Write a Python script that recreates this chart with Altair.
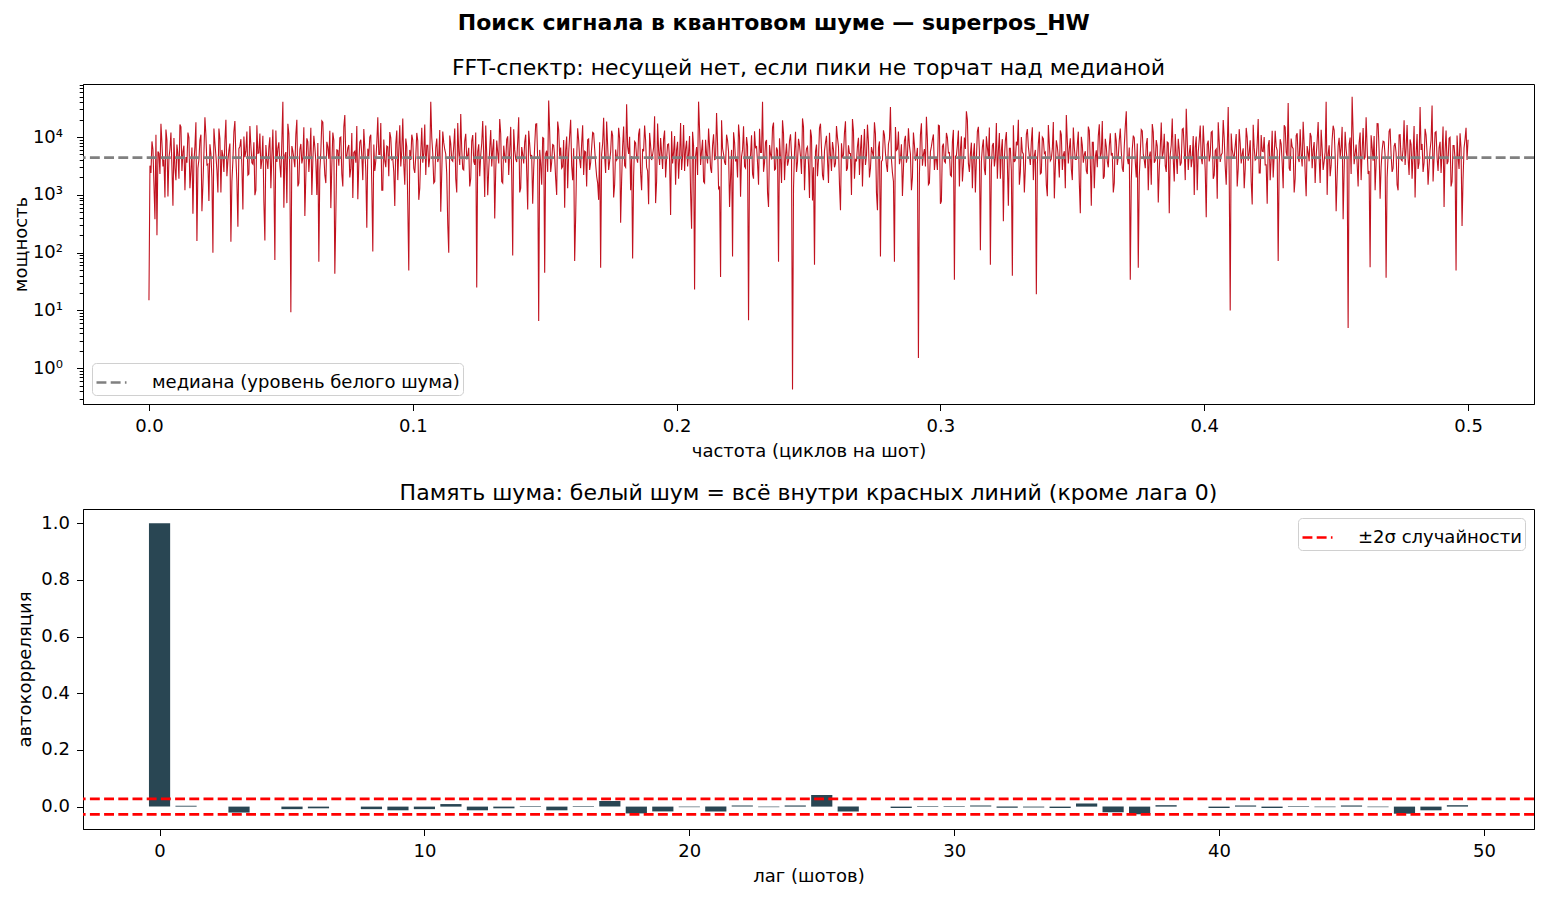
import numpy as np
import pandas as pd
import altair as alt

FONT = "DejaVu Sans"

# FFT power spectrum: even bins (0..1320) ...
power_even = [
    15, 2400, 6100, 380, 200, 5200, 17000, 3100, 900, 8800, 4300, 12000, 650, 2900, 7400, 1900, 15000, 5600, 1200, 3600,
    9800, 2600, 470, 6900, 160, 4100, 11000, 1500, 22000, 3300, 780, 5100, 100, 7900, 2700, 14000, 1100, 4800, 8600, 2100,
    5900, 155, 3900, 19000, 1700, 6300, 9200, 560, 4500, 12500, 2300, 7100, 3400, 990, 16000, 5300, 2800, 10500, 162, 4000,
    6600, 1300, 13500, 75, 3700, 8100, 2000, 41000, 4900, 720, 11500, 9.3, 5800, 3000, 20000, 1600, 7600, 4400, 430, 9500,
    2500, 14500, 3800, 6700, 1000, 70, 5500, 18000, 2200, 8300, 4200, 590, 12000, 43, 6000, 3200, 10000, 1400, 24000, 4700,
    7300, 2900, 880, 5700, 15500, 3500, 9000, 1800, 6400, 270, 4600, 11000, 105, 2600, 8000, 5000, 17500, 1200, 3900, 7000,
    2100, 9700, 4300, 640, 13000, 5900, 3100, 21000, 1500, 6800, 49, 4000, 8900, 2400, 11800, 820, 5400, 3600, 16500, 7200,
    3000, 41000, 5200, 1700, 9400, 4400, 510, 12500, 6100, 2300, 100, 7700, 3800, 14000, 1100, 5600, 25000, 2800, 8500, 4100,
    6500, 1900, 10800, 3300, 25, 7500, 4800, 19000, 920, 5100, 2700, 13200, 6200, 390, 8700, 3500, 11500, 1600, 4600, 9100,
    2200, 15000, 89, 6000, 3700, 22000, 1300, 5000, 8200, 2600, 12800, 4200, 700, 7000, 17000, 6.6, 3400, 9800, 45, 5800,
    43000, 2500, 7400, 4500, 1000, 13500, 6600, 3100, 600, 10200, 5300, 20000, 1800, 72, 4300, 8800, 2900, 16000, 5700, 1400,
    9300, 3600, 12000, 6300, 2100, 820, 55, 7800, 4700, 18500, 2700, 5500, 10600, 1500, 4000, 14500, 330, 6900, 3200, 37000,
    5100, 1200, 79, 8400, 4400, 11200, 2400, 6200, 15800, 3000, 690, 7100, 4900, 23000, 1700, 5900, 9600, 2800, 13000, 4200,
    7600, 450, 3500, 10400, 6000, 1900, 17500, 4600, 2600, 8600, 5300, 1100, 12300, 23, 6700, 41000, 3300, 9000, 1600, 5000,
    14000, 2900, 7200, 4100, 26000, 1300, 38, 6400, 3700, 11000, 5600, 2000, 86, 8100, 4500, 16500, 930, 6000, 3100, 10000,
    6.8, 4800, 2300, 12600, 7000, 1500, 5400, 41000, 3600, 8900, 620, 5000, 14800, 2700, 6600, 70, 4300, 19500, 1800, 7700,
    3900, 11200, 0.43, 5700, 2500, 9300, 4600, 21000, 1200, 6300, 3400, 13500, 800, 62, 7400, 4100, 17000, 2200, 5800, 10500,
    1600, 4900, 8200, 3000, 15500, 6800, 540, 4400, 12000, 2600, 7200, 5200, 20500, 1900, 3800, 9700, 6100, 1400, 13800, 4700,
    8000, 2900, 5500, 18000, 1100, 6500, 86, 4000, 10800, 3300, 7600, 33000, 2400, 70, 5900, 12500, 4300, 960, 8600, 3600,
    14200, 5100, 2000, 7300, 4600, 1.5, 11000, 3200, 6200, 22500, 1500, 5600, 9000, 2700, 4200, 16000, 700, 6900, 3800, 11800,
    5300, 2200, 8400, 34, 4800, 13000, 6000, 1700, 9800, 28000, 3500, 5000, 1300, 7800, 4100, 15000, 110, 6700, 2800, 10300,
    4500, 62, 7100, 3100, 17500, 5800, 1900, 9200, 4200, 12200, 650, 6400, 40, 3700, 8300, 20000, 2500, 5500, 1100, 11000,
    6900, 3300, 14800, 4800, 19, 7700, 2300, 10000, 5200, 1500, 16200, 3900, 6300, 870, 8800, 4400, 13000, 2700, 5700, 24000,
    3500, 9500, 1800, 6600, 4100, 12400, 480, 7200, 5000, 2600, 15200, 3800, 8100, 1300, 5900, 10500, 4300, 19000, 2100, 6800,
    3000, 11600, 5300, 1600, 8500, 4600, 14000, 2900, 7000, 28000, 3400, 34, 6100, 9700, 2000, 55, 5200, 12800, 4000, 7500,
    1200, 5600, 16800, 3600, 8900, 740, 6300, 4400, 11400, 2500, 7900, 5000, 21000, 1700, 4700, 9300, 3200, 13600, 6000, 31000,
    2700, 7300, 4200, 1000, 10200, 5500, 15800, 3400, 6700, 410, 8700, 4900, 12600, 2200, 6200, 18000, 3700, 5300, 9600, 1500,
    33000, 10, 6100, 4500, 11300, 2800, 7800, 5100, 1300, 14400, 3900, 8800, 680, 6500, 4200, 20500, 2400, 5700, 10000, 3300,
    7100, 1800, 12800, 4700, 6900, 72, 9200, 3600, 16000, 5500, 39000, 2600, 6800, 1100, 10600, 4300, 13700, 3100, 7500, 950,
    5400, 11800, 2900, 8200, 4600, 18200, 1600, 6400, 3800, 41000, 5000, 2100, 9000, 13200, 520, 7000, 4400, 15000, 2700, 6200,
    5, 9800, 50000, 3400, 7400, 1400, 12000, 5600, 4100, 22000, 2300, 56, 6700, 10400, 3500, 17000, 860, 5900, 8300, 37,
    4800, 14000, 2500, 7000, 5300, 1200, 11000, 3900, 19500, 6300, 4400, 9100, 1900, 15500, 5000, 2800, 33000, 7600, 3600, 10800,
    1500, 6000, 35000, 4300, 12400, 2600, 8300, 5400, 620, 13000, 3800, 9900, 1700, 7100, 49, 4600, 11600, 290, 6500, 14500,
    9000,
]
# ... and the odd bins in between them
power_odd = [
    3200, 8400, 1500, 11000, 5600, 2300, 7800, 4100, 13500, 940, 6200, 3000, 9600, 1800, 5000, 16500, 2600, 7100, 4500, 12000,
    1300, 6600, 3700, 18000, 2900, 8900, 520, 5300, 10800, 3400, 7500, 2000, 14000, 4800, 1100, 9300, 6000, 2500, 20000, 3900,
    7700, 1700, 12500, 4400, 280, 6900, 3100, 10200, 5700, 2200, 15500, 3600, 8100, 1200, 5200, 11500, 4000, 750, 7300, 2800,
    9900, 4600, 1900, 13000, 6400, 3300, 8700, 600, 5500, 17000, 2400, 7000, 4200, 11200, 1400, 6100, 3500, 14800, 2100, 8300,
    5100, 1000, 10500, 3800, 7900, 2700, 19000, 4900, 1600, 6700, 12800, 3200, 8800, 450, 5900, 9700, 2300, 15000, 4300, 6500,
    2000, 11800, 5400, 3600, 840, 8200, 4700, 13800, 2600, 6300, 10000, 1500, 7400, 3900, 22000, 5000, 1200, 9100, 3000, 6800,
    12200, 4100, 2500, 7600, 1800, 16000, 5800, 3400, 9400, 680, 6000, 11000, 2900, 4600, 8600, 1300, 14500, 5300, 2200, 7200,
    4400, 9800, 1600, 6600, 3700, 13200, 2400, 8000, 5100, 310, 10600, 4000, 7000, 1900, 17500, 3300, 6100, 2700, 11400, 4800,
    1400, 8500, 3800, 12000, 5600, 2100, 7800, 4500, 15800, 990, 6300, 3100, 9200, 2600, 5400, 20500, 1700, 7100, 3600, 10300,
    5800, 2300, 13600, 4200, 8400, 1100, 6700, 3500, 11000, 560, 7500, 4900, 2800, 16800, 3900, 6000, 1500, 9500, 5200, 2500,
    12400, 3700, 7200, 1900, 18500, 4600, 2900, 8900, 5900, 1300, 10800, 3200, 6400, 420, 14200, 4100, 7700, 2200, 5500, 9000,
    2700, 6500, 11600, 3400, 1600, 8100, 5000, 21500, 2400, 7300, 3800, 12900, 900, 6100, 4300, 9600, 1800, 15200, 3000, 6800,
    10100, 4700, 2100, 7900, 3600, 14000, 1200, 5700, 8700, 2600, 11800, 4000, 6600, 720, 17200, 3300, 5300, 9300, 2000, 7400,
    3900, 12600, 5500, 1500, 8300, 4400, 2700, 16200, 6200, 3100, 10400, 260, 7100, 4800, 2200, 13400, 5800, 1700, 9000, 3500,
    6900, 2400, 11200, 4200, 7600, 1400, 19500, 5100, 3300, 8800, 620, 6000, 12100, 3800, 2000, 9900, 4600, 15400, 2900, 7000,
    4300, 10700, 1900, 6400, 3600, 13900, 5400, 2500, 8200, 1100, 7300, 4100, 17800, 2800, 5900, 9500, 1600, 11500, 4700, 3200,
    8600, 5000, 1300, 12300, 3700, 7200, 2300, 15100, 4400, 6800, 880, 10200, 3000, 5600, 2100, 14300, 6300, 1800, 8100, 4000,
    11900, 2600, 6100, 3500, 9700, 1500, 7800, 4900, 18800, 2900, 5200, 1000, 12700, 4200, 7000, 2200, 10900, 5700, 3300, 16400,
    2000, 6700, 4500, 11300, 540, 8400, 3800, 13100, 5300, 2500, 9200, 4100, 1700, 14900, 6200, 3400, 7500, 2800, 10500, 4800,
    7100, 1200, 12000, 3900, 6500, 2300, 17300, 5000, 3100, 8900, 1600, 6900, 11100, 4300, 2700, 15600, 780, 7700, 3600, 9800,
    5400, 2100, 13300, 4600, 7300, 1400, 10300, 3200, 6200, 20000, 2500, 8000, 4900, 1100, 12600, 5700, 3700, 9100, 2200, 6600,
    14700, 3000, 7900, 4400, 1900, 11700, 5900, 350, 8700, 3500, 6400, 2600, 16000, 4000, 7200, 1500, 10000, 5100, 2900, 13800,
    4700, 8300, 1800, 6000, 3400, 12400, 2400, 9400, 5500, 950, 7600, 4200, 18200, 3100, 6800, 2000, 11000, 4900, 1300, 8500,
    6300, 2800, 14600, 4100, 7400, 1600, 10100, 3600, 5700, 2300, 12900, 650, 8100, 4500, 3000, 16700, 5300, 1900, 9300, 3800,
    7000, 4800, 1100, 11800, 3300, 8800, 5600, 2500, 15300, 4300, 6600, 1700, 10600, 3700, 7700, 2100, 13500, 5000, 2900, 9600,
    4600, 1500, 12200, 3900, 6900, 2700, 17900, 5400, 3200, 8200, 480, 7300, 4100, 11300, 2300, 6100, 3600, 14100, 1800, 8700,
    5200, 3000, 10400, 6700, 1200, 9000, 4400, 15900, 2600, 7500, 3800, 12100, 1900, 5800, 860, 8300, 4900, 19800, 3100, 6200,
    2200, 11500, 4700, 7100, 1400, 13700, 3500, 6400, 2800, 9900, 5300, 1700, 16300, 4000, 7800, 2400, 10800, 5600, 3300, 700,
    8900, 4200, 2000, 12800, 5900, 3400, 7600, 1300, 14800, 4600, 2900, 9400, 6300, 1900, 11600, 3700, 5100, 18400, 2500, 7000,
    3800, 10200, 6000, 1600, 8600, 4300, 13400, 2700, 5500, 1000, 7200, 3200, 15700, 4800, 2100, 9700, 6600, 380, 12300, 4000,
    7500, 2300, 11900, 5200, 3500, 8000, 1800, 14400, 4500, 6700, 2600, 10700, 3900, 1200, 17100, 5800, 3000, 8500, 4700, 2000,
    12600, 5000, 2900, 7900, 1500, 10900, 4100, 6300, 3300, 16100, 2200, 7400, 4900, 900, 11300, 3600, 6000, 2500, 13900, 5300,
    3100, 8800, 1700, 12000, 4400, 6500, 2400, 15200, 5600, 3400, 9500, 1400, 7100, 4200, 10600, 2800, 6400, 1900, 9200, 4000,
]
median_power = 4400

# autocorrelation by lag
lags = list(range(50))
acf = [
    1.0, 0.003, 0.0, -0.021, 0.0, -0.009, -0.006, 0.0, -0.009, -0.013,
    -0.009, 0.009, -0.013, -0.006, 0.002, -0.013, 0.002, 0.020, -0.024, -0.017,
    -0.002, -0.017, 0.004, -0.002, 0.004, 0.041, -0.017, 0.0, -0.005, 0.002,
    0.002, 0.004, -0.004, -0.003, -0.005, 0.011, -0.020, -0.027, 0.005, 0.0,
    -0.005, 0.004, -0.005, 0.002, -0.002, 0.004, -0.002, -0.025, -0.013, 0.005,
]
band = 0.0274

assert len(power_even) == 661 and len(power_odd) == 660
assert len(acf) == len(lags)

power = []
for a, b in zip(power_even, power_odd):
    power += [a, b]
power.append(power_even[-1])

W, H = 1451, 320
DASH = [9.9, 4.3]

spec_df = pd.DataFrame({"freq": np.linspace(0, 0.5, len(power)), "power": power})
med_label = "медиана (уровень белого шума)"
med_df = pd.DataFrame({"power": [median_power], "label": [med_label]})

major = [1, 10, 100, 1000, 10000]
minor = [m * 10 ** e for e in range(-1, 5) for m in range(2, 10)
         if 0.241 <= m * 10 ** e <= 82800]
log_scale = alt.Scale(type="log", domain=[0.241, 82800], nice=False)
is_major = "indexof([1,10,100,1000,10000], datum.value) >= 0"

spec_line = alt.Chart(spec_df).mark_line(color="#c1121f", strokeWidth=1.1).encode(
    x=alt.X("freq:Q", title="частота (циклов на шот)",
            scale=alt.Scale(domain=[-0.025, 0.525], nice=False, zero=False),
            axis=alt.Axis(values=[0, 0.1, 0.2, 0.3, 0.4, 0.5], format=".1f")),
    y=alt.Y("power:Q", title="мощность", scale=log_scale,
            axis=alt.Axis(
                values=major + minor,
                labelOverlap=False,
                labelPadding=14,
                titlePadding=2,
                labelExpr=is_major + " ? '10' + ['⁰','¹','²','³','⁴'][round(log(datum.value)/LN10)] : ''",
                labelFontSize={"condition": {"test": is_major, "value": 18}, "value": 0},
                tickSize={"condition": {"test": is_major, "value": 6.5}, "value": 3.8},
            )),
)

legend_top = alt.Legend(title=None, orient="bottom-left", offset=9)
med_rule = alt.Chart(med_df).mark_rule(strokeWidth=2.7).encode(
    y=alt.Y("power:Q", scale=log_scale),
    color=alt.Color("label:N", scale=alt.Scale(domain=[med_label], range=["#808080"]),
                    legend=legend_top),
    strokeDash=alt.StrokeDash("label:N", scale=alt.Scale(domain=[med_label], range=[DASH]),
                              legend=legend_top),
)

top = alt.layer(spec_line, med_rule).properties(
    width=W, height=H,
    title=alt.TitleParams("FFT-спектр: несущей нет, если пики не торчат над медианой",
                          fontSize=22, fontWeight="normal", offset=4),
)

acf_df = pd.DataFrame({"lag": lags, "acf": acf})
band_label = "±2σ случайности"
band_df = pd.DataFrame({"level": [band, -band], "label": [band_label, band_label]})
acf_y = alt.Scale(domain=[-0.079, 1.05], nice=False)

bars = alt.Chart(acf_df).transform_calculate(
    x0="datum.lag - 0.4", x1="datum.lag + 0.4"
).mark_bar(color="#294653").encode(
    x=alt.X("x0:Q", title="лаг (шотов)",
            scale=alt.Scale(domain=[-2.89, 51.89], nice=False, zero=False),
            axis=alt.Axis(values=[0, 10, 20, 30, 40, 50])),
    x2="x1:Q",
    y=alt.Y("acf:Q", title="автокорреляция", scale=acf_y,
            axis=alt.Axis(values=[0, 0.2, 0.4, 0.6, 0.8, 1.0], format=".1f",
                          labelPadding=7, titlePadding=6)),
    y2=alt.datum(0),
)

legend_bottom = alt.Legend(title=None, orient="top-right", offset=9)
band_rules = alt.Chart(band_df).mark_rule(strokeWidth=2.7).encode(
    y=alt.Y("level:Q", scale=acf_y),
    color=alt.Color("label:N", scale=alt.Scale(domain=[band_label], range=["#ff0000"]),
                    legend=legend_bottom),
    strokeDash=alt.StrokeDash("label:N", scale=alt.Scale(domain=[band_label], range=[DASH]),
                              legend=legend_bottom),
)

bottom = alt.layer(bars, band_rules).properties(
    width=W, height=H,
    title=alt.TitleParams("Память шума: белый шум = всё внутри красных линий (кроме лага 0)",
                          fontSize=22, fontWeight="normal", offset=4),
)

chart = alt.vconcat(top, bottom, spacing=20).resolve_scale(
    color="independent", strokeDash="independent"
).properties(
    title=alt.TitleParams("Поиск сигнала в квантовом шуме — superpos_HW",
                          fontSize=22, fontWeight="bold", offset=22),
    padding={"left": 3, "top": 3, "right": 0, "bottom": 2},
).configure_axis(
    labelFont=FONT, titleFont=FONT, labelFontSize=18, titleFontSize=18,
    titleFontWeight="normal", labelColor="black", titleColor="black",
    domainColor="black", tickColor="black", tickSize=6.5, grid=False,
    labelPadding=6.5, titlePadding=7,
).configure_view(
    stroke="black", strokeWidth=1,
).configure_legend(
    labelFont=FONT, labelFontSize=18, labelColor="black", labelLimit=600,
    fillColor="white", strokeColor="#d0d0d0", cornerRadius=4,
    padding=3, symbolType="stroke", symbolSize=900, symbolStrokeWidth=2.7,
    labelOffset=24,
).configure_title(
    font=FONT, color="black", anchor="middle",
)

chart.save("out.html", embed_options={"renderer": "svg", "actions": False})
